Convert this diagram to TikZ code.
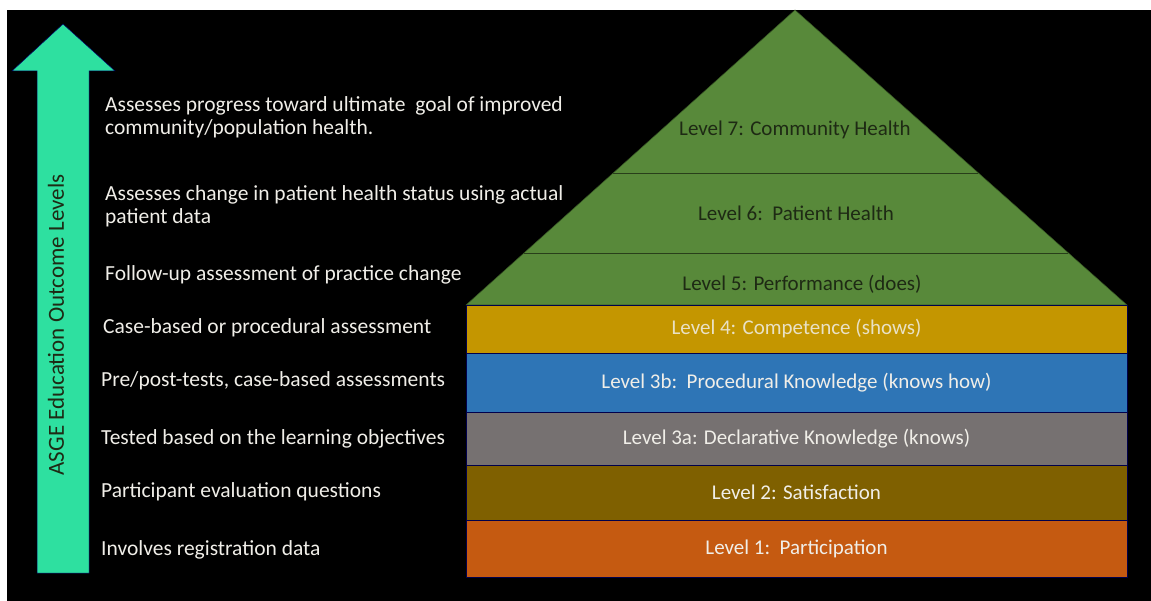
\documentclass[tikz,border=0pt]{standalone}
\usepackage{fontspec}
\setmainfont{Carlito}
\usepackage{tikz}
\usetikzlibrary{calc}

\definecolor{asgemint}{RGB}{46,224,160}
\definecolor{lvlgreen}{RGB}{88,137,58}
\definecolor{lvlgold}{RGB}{196,150,0}
\definecolor{lvlblue}{RGB}{46,117,182}
\definecolor{lvlgrey}{RGB}{118,113,113}
\definecolor{lvlbrown}{RGB}{127,96,0}
\definecolor{lvlorange}{RGB}{197,90,17}
\definecolor{darktext}{RGB}{30,42,20}
\definecolor{lighttext}{RGB}{240,238,232}

\tikzset{
  desc/.style={anchor=west,align=left,text=lighttext,inner sep=0pt,
    font=\fontsize{21.5}{23}\selectfont},
  band/.style={draw=black!70!blue,line width=0.6pt,minimum width=661pt,
    inner sep=0pt,text=lighttext,font=\fontsize{21}{23}\selectfont},
  toplbl/.style={text=darktext,inner sep=0pt,font=\fontsize{21}{23}\selectfont}
}

\begin{document}
\begin{tikzpicture}[x=1pt,y=-1pt]
  % page and black background
  \useasboundingbox (0,0) rectangle (1151,601);
  \fill[white] (0,0) rectangle (1151,601);
  \fill[black] (7,10) rectangle (1151,601);

  % big arrow on the left
  \draw[fill=asgemint,draw=black!60!blue,line width=0.5pt]
    (37,573) -- (37,71) -- (12,71) -- (63,24) -- (115,71) -- (89,71) -- (89,573) -- cycle;
  \node[rotate=90,text=darktext,inner sep=0pt,font=\fontsize{23}{25}\selectfont]
    (axis) at (56,325) {ASGE Education Outcome Levels};

  % green roof of the pyramid
  \coordinate (apex) at (795,10);
  \coordinate (bl) at (466,305);
  \coordinate (br) at (1127,305);
  \draw[fill=lvlgreen,draw=lvlgreen!60!black,line width=0.5pt] (apex) -- (bl) -- (br) -- cycle;
  \draw[lvlgreen!45!black,line width=0.8pt] ($(apex)!0.5525!(bl)$) -- ($(apex)!0.5525!(br)$);
  \draw[lvlgreen!45!black,line width=0.8pt] ($(apex)!0.8237!(bl)$) -- ($(apex)!0.8237!(br)$);
  \node[toplbl] (lvl7) at (795,130) {Level 7: Community Health};
  \node[toplbl] (lvl6) at (796,213) {Level 6:\ \ Patient Health};
  \node[toplbl] (lvl5) at (802,284) {Level 5: Performance (does)};

  % rectangular bands
  \node[band,fill=lvlgold,minimum height=48pt,text=lighttext!85!lvlgold] (lvl4) at (796.5,329) {Level 4: Competence (shows)};
  \node[band,fill=lvlblue,minimum height=59pt] (lvl3b) at (796.5,382.5) {Level 3b:\ \ Procedural Knowledge (knows how)};
  \node[band,fill=lvlgrey,minimum height=53pt] (lvl3a) at (796.5,438.5) {Level 3a: Declarative Knowledge (knows)};
  \node[band,fill=lvlbrown,minimum height=55pt] (lvl2) at (796.5,492.5) {Level 2: Satisfaction};
  \node[band,fill=lvlorange,minimum height=57pt] (lvl1) at (796.5,548.5) {Level 1:\ \ Participation};

  % descriptions on the left
  \node[desc] (d7) at (105,117) {Assesses progress toward ultimate\ \ goal of improved\\community/population health.};
  \node[desc] (d6) at (105,206) {Assesses change in patient health status using actual\\patient data};
  \node[desc] (d5) at (105,275) {Follow-up assessment of practice change};
  \node[desc] (d4) at (103,328) {Case-based or procedural assessment};
  \node[desc] (d3b) at (101,381) {Pre/post-tests, case-based assessments};
  \node[desc] (d3a) at (101,439) {Tested based on the learning objectives};
  \node[desc] (d2) at (101,492) {Participant evaluation questions};
  \node[desc] (d1) at (101,550) {Involves registration data};
\end{tikzpicture}
\end{document}
